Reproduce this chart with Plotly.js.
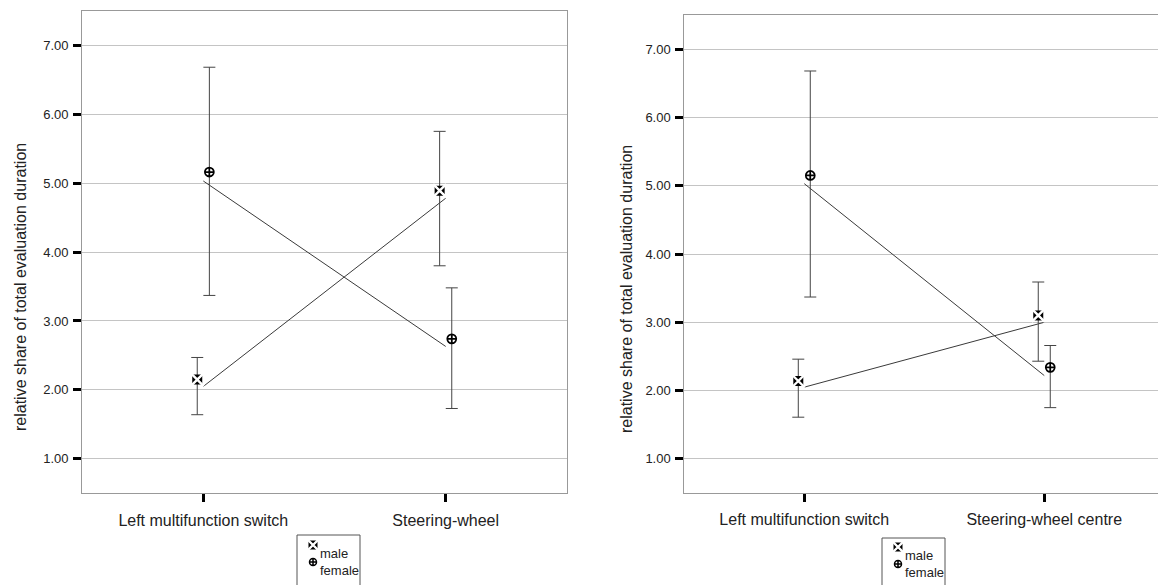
<!DOCTYPE html>
<html>
<head>
<meta charset="utf-8">
<script src="https://cdn.plot.ly/plotly-3.0.1.min.js"></script>
<style>
html,body{margin:0;padding:0;background:#fff;overflow:hidden;}
#chart{width:1158px;height:585px;}
</style>
</head>
<body>
<div id="chart"></div>
<script>
// ---------- data ----------
const categoriesA = ['Left multifunction switch', 'Steering-wheel'];
const categoriesB = ['Left multifunction switch', 'Steering-wheel centre'];
const yTickVals = [1, 2, 3, 4, 5, 6, 7];
const seriesNames = ['male', 'female'];
const yTitle = 'relative share of total evaluation duration';

// chart A (left)
const maleMeanA = [2.15, 4.89];
const maleUpperA = [2.47, 5.75];
const maleLowerA = [1.64, 3.80];
const femaleMeanA = [5.16, 2.74];
const femaleUpperA = [6.68, 3.48];
const femaleLowerA = [3.37, 1.73];
const maleLineA = [2.05, 4.78];
const femaleLineA = [5.03, 2.63];

// chart B (right)
const maleMeanB = [2.14, 3.10];
const maleUpperB = [2.46, 3.59];
const maleLowerB = [1.61, 2.43];
const femaleMeanB = [5.15, 2.34];
const femaleUpperB = [6.68, 2.66];
const femaleLowerB = [3.37, 1.75];
const maleLineB = [2.05, 3.00];
const femaleLineB = [5.03, 2.22];

// ---------- style ----------
const FONT = 'Liberation Sans, Arial, sans-serif';
const W = 1158, H = 585;
const OFF = 0.025;           // horizontal offset of markers from category centre
const lineCol = '#3a3a3a';
const errCol = '#444444';
const gridCol = '#c4c4c4';
const frameCol = '#999999';

function idx(arr) { return arr.map((_, i) => i); }
function diff(a, b) { return a.map((v, i) => v - b[i]); }

// male marker: black square with white diagonal bands -> cross-pattée look
function maleMarker(x, y, xa, ya, size, err) {
  const base = {type: 'scatter', mode: 'markers', x: x, y: y, xaxis: xa, yaxis: ya,
    marker: {symbol: 'square', size: size, color: '#000', line: {width: 0}},
    showlegend: false, hoverinfo: 'skip'};
  if (err) base.error_y = err;
  const cut = {type: 'scatter', mode: 'markers', x: x, y: y, xaxis: xa, yaxis: ya,
    marker: {symbol: 'x-thin-open', size: size + 3, color: '#fff', line: {width: 2.4, color: '#fff'}},
    showlegend: false, hoverinfo: 'skip'};
  return [base, cut];
}

function chartTraces(cats, mMean, mUp, mLo, fMean, fUp, fLo, mLine, fLine, xa, ya) {
  const xs = idx(cats);
  const xm = xs.map(v => v - OFF);
  const xf = xs.map(v => v + OFF);
  return [
    {type: 'scatter', mode: 'lines', x: xs, y: fLine, xaxis: xa, yaxis: ya,
     line: {color: lineCol, width: 1}, hoverinfo: 'skip', showlegend: false},
    {type: 'scatter', mode: 'lines', x: xs, y: mLine, xaxis: xa, yaxis: ya,
     line: {color: lineCol, width: 1}, hoverinfo: 'skip', showlegend: false},
    {type: 'scatter', mode: 'markers', x: xf, y: fMean, xaxis: xa, yaxis: ya,
     error_y: {type: 'data', symmetric: false, array: diff(fUp, fMean), arrayminus: diff(fMean, fLo),
               color: errCol, thickness: 1, width: 6},
     marker: {symbol: 'circle-cross-open', size: 9, color: '#000', line: {width: 1.7, color: '#000'}},
     showlegend: false, hoverinfo: 'skip'}
  ].concat(maleMarker(xm, mMean, xa, ya, 10,
     {type: 'data', symmetric: false, array: diff(mUp, mMean), arrayminus: diff(mMean, mLo),
      color: errCol, thickness: 1, width: 6}));
}

const traces = []
  .concat(chartTraces(categoriesA, maleMeanA, maleUpperA, maleLowerA, femaleMeanA, femaleUpperA, femaleLowerA, maleLineA, femaleLineA, 'x', 'y'))
  .concat(chartTraces(categoriesB, maleMeanB, maleUpperB, maleLowerB, femaleMeanB, femaleUpperB, femaleLowerB, maleLineB, femaleLineB, 'x2', 'y2'));

// legend sample markers (pixel overlay axes x3/y3)
const legendPos = [{x: 313, y: 545}, {x: 898, y: 547}];
legendPos.forEach(p => {
  maleMarker([p.x], [p.y], 'x3', 'y3', 9, null).forEach(t => traces.push(t));
  traces.push({type: 'scatter', mode: 'markers', x: [p.x], y: [p.y + 17], xaxis: 'x3', yaxis: 'y3',
    marker: {symbol: 'circle-cross-open', size: 7, color: '#000', line: {width: 1.5, color: '#000'}},
    showlegend: false, hoverinfo: 'skip'});
});

function yAxis(domain) {
  return {
    domain: domain, range: [0.5, 7.5], tickvals: yTickVals, tickformat: '.2f',
    showgrid: true, gridcolor: gridCol, gridwidth: 1, zeroline: false,
    showline: true, linecolor: frameCol, linewidth: 1,
    ticks: 'outside', ticklen: 8, tickwidth: 3, tickcolor: '#000',
    ticklabelstandoff: 2,
    tickfont: {family: FONT, size: 13, color: '#222'}, fixedrange: true
  };
}
function xAxis(domain, range, cats, anchor) {
  return {
    domain: domain, range: range, tickvals: idx(cats), ticktext: cats, anchor: anchor,
    showgrid: false, zeroline: false, showline: true, linecolor: frameCol, linewidth: 1,
    mirror: true,
    ticks: 'outside', ticklen: 8, tickwidth: 3, tickcolor: '#000',
    ticklabelstandoff: 4,
    tickfont: {family: FONT, size: 16, color: '#222'}, fixedrange: true
  };
}

const layout = {
  width: W, height: H,
  margin: {l: 0, r: 0, t: 0, b: 0},
  paper_bgcolor: '#fff', plot_bgcolor: 'rgba(0,0,0,0)',
  showlegend: false,
  font: {family: FONT},
  xaxis: xAxis([82.1 / W, 566.9 / W], [-0.5, 1.5], categoriesA, 'y'),
  yaxis: Object.assign(yAxis([(H - 493.3) / H, (H - 10.7) / H]), {anchor: 'x', mirror: true}),
  xaxis2: xAxis([684.3 / W, 1], [-0.5, 1.474], categoriesB, 'y2'),
  yaxis2: Object.assign(yAxis([(H - 493) / H, (H - 15) / H]), {anchor: 'x2'}),
  xaxis3: {domain: [0, 1], range: [0, W], visible: false, fixedrange: true, anchor: 'y3'},
  yaxis3: {domain: [0, 1], range: [H, 0], visible: false, fixedrange: true, anchor: 'x3'},
  shapes: [
    {type: 'rect', xref: 'x3', yref: 'y3', x0: 297, x1: 360, y0: 535, y1: 600,
     line: {color: '#555', width: 1}, fillcolor: 'rgba(0,0,0,0)'},
    {type: 'rect', xref: 'x3', yref: 'y3', x0: 882, x1: 945, y0: 538, y1: 600,
     line: {color: '#555', width: 1}, fillcolor: 'rgba(0,0,0,0)'}
  ],
  annotations: [
    {xref: 'x3', yref: 'y3', x: 20, y: 287, text: yTitle, textangle: -90, showarrow: false,
     xanchor: 'center', yanchor: 'middle', font: {family: FONT, size: 16, color: '#222'}},
    {xref: 'x3', yref: 'y3', x: 626, y: 289, text: yTitle, textangle: -90, showarrow: false,
     xanchor: 'center', yanchor: 'middle', font: {family: FONT, size: 16, color: '#222'}},
    {xref: 'x3', yref: 'y3', x: 318, y: 553, text: seriesNames[0], showarrow: false,
     xanchor: 'left', yanchor: 'middle', font: {family: FONT, size: 13, color: '#222'}},
    {xref: 'x3', yref: 'y3', x: 318, y: 570, text: seriesNames[1], showarrow: false,
     xanchor: 'left', yanchor: 'middle', font: {family: FONT, size: 13, color: '#222'}},
    {xref: 'x3', yref: 'y3', x: 903, y: 555, text: seriesNames[0], showarrow: false,
     xanchor: 'left', yanchor: 'middle', font: {family: FONT, size: 13, color: '#222'}},
    {xref: 'x3', yref: 'y3', x: 903, y: 572, text: seriesNames[1], showarrow: false,
     xanchor: 'left', yanchor: 'middle', font: {family: FONT, size: 13, color: '#222'}}
  ]
};

Plotly.newPlot('chart', traces, layout, {staticPlot: true, displayModeBar: false});
</script>
</body>
</html>
